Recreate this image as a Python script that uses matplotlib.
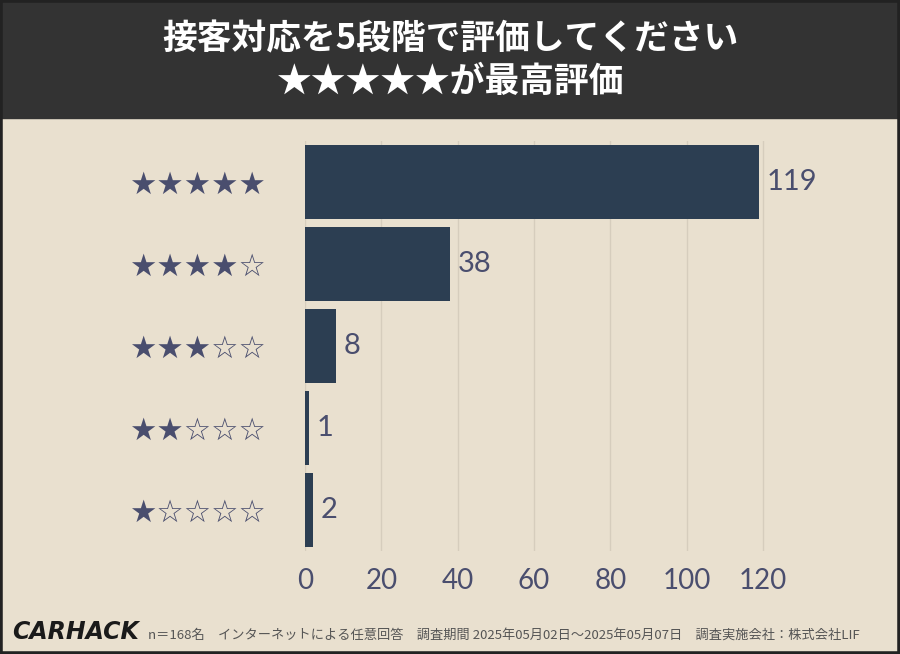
import matplotlib
matplotlib.use("Agg")
import matplotlib.pyplot as plt
from matplotlib.patches import Rectangle

labels = ["★★★★★", "★★★★☆", "★★★☆☆", "★★☆☆☆", "★☆☆☆☆"]
values = [119, 38, 8, 1, 2]
xticks = [0, 20, 40, 60, 80, 100, 120]
title = "接客対応を5段階で評価してください\n★★★★★が最高評価"
footer = "n＝168名　インターネットによる任意回答　調査期間 2025年05月02日〜2025年05月07日　調査実施会社：株式会社LIF"

W, H = 900, 654
bg = "#e9e0cf"
fig = plt.figure(figsize=(9, 6.54), dpi=100, facecolor=bg)
fig.patches.append(Rectangle((0, 1 - 118 / H), 1, 118 / H, transform=fig.transFigure, color="#333333", zorder=0))
fig.patches.append(Rectangle((0, 0), 1, 1, transform=fig.transFigure, fill=False, ec="#222222", lw=4, zorder=5))
fig.text(0.5, 1 - 60 / H, title, ha="center", va="center", color="white", fontsize=25,
         fontweight="bold", family="Noto Sans CJK JP", linespacing=1.25)

x0, x1 = 305, 305 + 125 * 3.817
y0, y1 = 141, 551
ax = fig.add_axes([x0 / W, 1 - y1 / H, (x1 - x0) / W, (y1 - y0) / H])
ax.set_facecolor(bg)
y = list(range(len(values)))
ax.barh(y, values, height=0.9, color="#2c3e52", zorder=3)
ax.set_ylim(len(values) - 0.5, -0.5)
ax.set_xlim(0, 125)
ax.set_xticks(xticks)
ax.set_xticklabels([str(t) for t in xticks], fontsize=20, color="#4a4e6e", family="Lato")
ax.set_yticks(y)
ax.set_yticklabels(labels, fontsize=22, color="#4a4e6e", family="DejaVu Sans")
ax.tick_params(length=0, pad=28, axis="y")
ax.tick_params(length=0, pad=12, axis="x")
ax.grid(axis="x", color="#d6cdbd", lw=1, zorder=0)
for s in ax.spines.values():
    s.set_visible(False)
for yi, v in zip(y, values):
    ax.text(v + 2, yi, str(v), va="center", ha="left", fontsize=21, color="#4a4e6e", family="Lato")

fig.text(12 / W, 1 - 632 / H, "CARHACK", fontsize=17, fontweight="heavy", style="italic",
         color="#1a1a1a", va="center", family="DejaVu Sans")
fig.text(148 / W, 1 - 635 / H, footer, fontsize=9.5, color="#555555", va="center", family="Noto Sans CJK JP")
fig.savefig("out.png", dpi=100, facecolor=bg)
